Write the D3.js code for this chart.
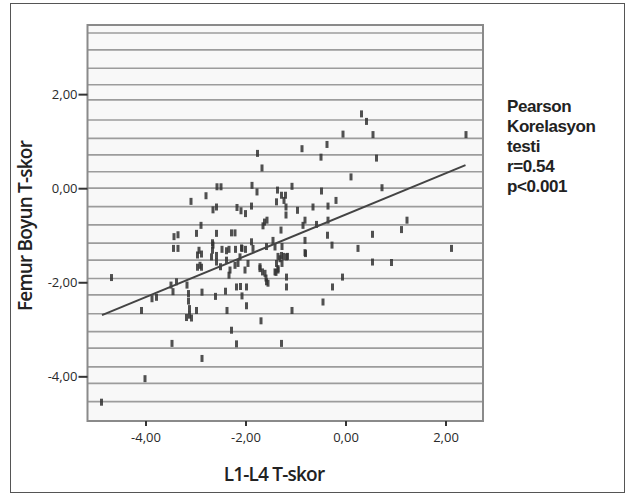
<!DOCTYPE html>
<html>
<head>
<meta charset="utf-8">
<script src="https://cdn.jsdelivr.net/npm/d3@7"></script>
<style>
  body { margin: 0; background: #fff; }
  text { font-family: "Open Sans", "Noto Sans", sans-serif; }
</style>
</head>
<body>
<svg id="chart" width="630" height="495"></svg>
<script>
// tick values
var xTicks = [-4, -2, 0, 2];
var yTicks = [2, 0, -2, -4];

// horizontal lines of the plot background (data units)
var gridLines = [3.30, 2.94, 2.55, 2.20, 1.88, 1.45, 1.06, 0.71, 0.35, 0, -0.39, -0.78,
  -1.17, -1.53, -1.92, -2.27, -2.67, -3.05, -3.40, -3.80, -4.15, -4.54];

// L1-L4 T-skor
var lumbar = [0.32, 0.42, -0.05, 0.55, 2.41, -0.37, -0.87, -0.49, 0.62, -1.76, -1.67, 0.11, 0.73,
  -0.48, -0.19, -0.35, -0.65, -0.96, -1.07, -1.19, -1.19, -1.36, -1.28, -1.20, -1.23, -1.38,
  -1.87, -1.77, -2.57, -2.49, -2.79, -3.09, -2.65, -2.58, -2.17, -2.09, -2.00, -1.88,
  -1.62, -1.57, -1.65, -0.81, -0.85, -0.58, -0.35, -1.29, -0.36, -1.88, -1.85, -1.45, -1.41,
  -0.81, -0.27, -0.81, 0.25, 0.54, 1.12, 1.23, 2.12, 0.54, 0.92, -0.06, -0.26, -0.45, -1.07,
  -1.28, -1.69, -2.18, -2.28, -2.87, -3.47, -4.01, -4.88, -4.68, -4.08, -3.87, -3.78, -3.49,
  -3.45, -3.38, -3.17, -3.14, -3.14, -3.12, -3.12, -3.08, -3.18, -2.98, -2.87, -2.60, -2.40,
  -2.37, -2.18, -2.10, -2.07, -1.98, -1.98, -1.18, -1.18, -1.71, -1.61, -1.58, -2.01, -1.41,
  -1.35, -1.38, -1.31, -1.28, -1.18, -0.80, -1.66, -3.43, -3.35, -3.44, -3.35, -2.98, -2.89,
  -2.58, -2.28, -2.21, -2.66, -2.66, -2.93, -2.96, -2.88, -2.91, -2.96, -2.88, -2.47, -2.38,
  -2.33, -2.20, -2.08, -2.00, -2.68, -2.58, -2.50, -2.38, -2.31, -2.33, -2.21, -2.11, -2.58,
  -2.65, -2.15, -1.95, -2.07, -1.58, -1.27, -1.35, -1.24, -1.16, -1.27, -1.59, -1.55, -1.39,
  -1.35, -1.71];

// Femur Boyun T-skor
var femur = [1.58, 1.42, 1.15, 1.14, 1.14, 0.93, 0.84, 0.66, 0.64, 0.74, 0.43, 0.24, 0.01,
  -0.06, -0.26, -0.38, -0.40, -0.47, 0.04, -0.40, -0.57, -0.04, -0.15, -0.15, -0.26, -0.29,
  0.06, -0.08, 0.03, 0.03, -0.16, -0.28, -0.46, -0.40, -0.41, -0.48, -0.54, -0.38,
  -0.72, -0.68, -0.80, -0.68, -0.79, -0.77, -0.68, -0.89, -1.00, -1.14, -1.28, -1.11, -1.25,
  -1.11, -1.21, -1.37, -1.28, -0.98, -0.88, -0.68, -1.28, -1.57, -1.58, -1.89, -2.10, -2.42, -2.60,
  -3.30, -2.82, -3.31, -3.02, -3.62, -3.30, -4.05, -4.55, -1.90, -2.60, -2.35, -2.32, -2.06,
  -2.20, -1.99, -2.06, -2.24, -2.40, -2.56, -2.70, -2.76, -2.75, -2.60, -2.21, -2.30, -2.19,
  -2.60, -2.10, -2.09, -2.29, -2.10, -2.50, -1.89, -2.10, -1.71, -1.81, -1.99, -1.74, -1.78,
  -1.71, -1.60, -1.50, -1.43, -1.46, -1.39, -1.78, -1.03, -0.99, -1.28, -1.28, -0.96, -0.79,
  -0.96, -0.95, -0.95, -1.16, -1.32, -1.32, -1.42, -1.40, -1.64, -1.68, -1.68, -1.30, -1.33,
  -1.30, -1.30, -1.27, -1.30, -1.46, -1.57, -1.67, -1.53, -1.74, -1.85, -1.64, -1.46, -1.43,
  -1.21, -1.60, -1.60, -1.28, -1.24, -1.24, -1.45, -1.45, -1.45, -1.60, -1.91, -2.02, -1.79,
  -1.74, -1.67];

// regression line end points
var fitX = [-4.87, 2.40];
var fitY = [-2.70, 0.49];

var statLines = ["Pearson", "Korelasyon", "testi", "r=0.54", "p<0.001"];

var svg = d3.select("#chart");
var plotLeft = 87.5, plotRight = 483, plotTop = 25, plotBottom = 421;

var x = d3.scaleLinear().domain([-5.16, 2.75]).range([plotLeft, plotRight]);
var y = d3.scaleLinear().domain([3.47, -4.95]).range([plotTop, plotBottom]);

var locale = d3.formatLocale({decimal: ",", thousands: ".", grouping: [3], currency: ["", ""], minus: "-"});
var fmt = locale.format(".2f");

// outer frame
svg.append("rect")
  .attr("x", 10.5).attr("y", 3.5)
  .attr("width", 614).attr("height", 489)
  .attr("fill", "none")
  .attr("stroke", "#555")
  .attr("stroke-width", 1);

// plot background
svg.append("rect")
  .attr("x", plotLeft).attr("y", plotTop)
  .attr("width", plotRight - plotLeft).attr("height", plotBottom - plotTop)
  .attr("fill", "#f8f8f8");

svg.append("g")
  .selectAll("line")
  .data(gridLines)
  .enter()
  .append("line")
    .attr("x1", plotLeft).attr("x2", plotRight)
    .attr("y1", function(d) { return y(d); })
    .attr("y2", function(d) { return y(d); })
    .attr("stroke", "#9c9c9c")
    .attr("stroke-width", 1.7);

svg.append("rect")
  .attr("x", plotLeft).attr("y", plotTop)
  .attr("width", plotRight - plotLeft).attr("height", plotBottom - plotTop)
  .attr("fill", "none")
  .attr("stroke", "#8a8a8a")
  .attr("stroke-width", 2);

// axes
var xAxis = svg.append("g")
  .attr("transform", "translate(0," + plotBottom + ")")
  .call(d3.axisBottom(x).tickValues(xTicks).tickFormat(fmt).tickSize(5).tickPadding(7));
var yAxis = svg.append("g")
  .attr("transform", "translate(" + plotLeft + ",0)")
  .call(d3.axisLeft(y).tickValues(yTicks).tickFormat(fmt).tickSize(9).tickPadding(1));

[xAxis, yAxis].forEach(function(a) {
  a.select(".domain").remove();
  a.selectAll(".tick line").attr("stroke", "#333").attr("stroke-width", 2);
  a.selectAll(".tick text")
    .attr("fill", "#2a2a2a")
    .style("font-size", "13px")
    .style("font-family", "'Open Sans', sans-serif");
});

// points
svg.append("g")
  .selectAll("rect")
  .data(d3.range(lumbar.length))
  .enter()
  .append("rect")
    .attr("x", function(i) { return x(lumbar[i]) - 1.5; })
    .attr("y", function(i) { return y(femur[i]) - 3.5; })
    .attr("width", 3)
    .attr("height", 7)
    .attr("fill", "#333")
    .attr("opacity", 0.85);

// fit line
svg.append("line")
  .attr("x1", x(fitX[0])).attr("y1", y(fitY[0]))
  .attr("x2", x(fitX[1])).attr("y2", y(fitY[1]))
  .attr("stroke", "#444")
  .attr("stroke-width", 2);

// titles
svg.append("text")
  .attr("x", 274)
  .attr("y", 481)
  .attr("text-anchor", "middle")
  .attr("fill", "#222")
  .style("font-size", "19px")
  .style("font-weight", 600)
  .style("letter-spacing", "-0.8px")
  .text("L1-L4 T-skor");

svg.append("text")
  .attr("transform", "translate(32,226) rotate(-90)")
  .attr("text-anchor", "middle")
  .attr("fill", "#222")
  .style("font-size", "19px")
  .style("font-weight", 600)
  .style("letter-spacing", "-0.8px")
  .text("Femur Boyun T-skor");

// stats note, tight leading as in the original
svg.append("g")
  .selectAll("text")
  .data(statLines)
  .enter()
  .append("text")
    .attr("x", 507)
    .attr("y", function(d, i) { return 112 + i * 20; })
    .attr("fill", "#222")
    .style("font-family", "'Liberation Sans', Arial, sans-serif")
    .style("font-size", "17px")
    .style("font-weight", 700)
    .style("letter-spacing", "-0.4px")
    .text(function(d) { return d; });
</script>
</body>
</html>
